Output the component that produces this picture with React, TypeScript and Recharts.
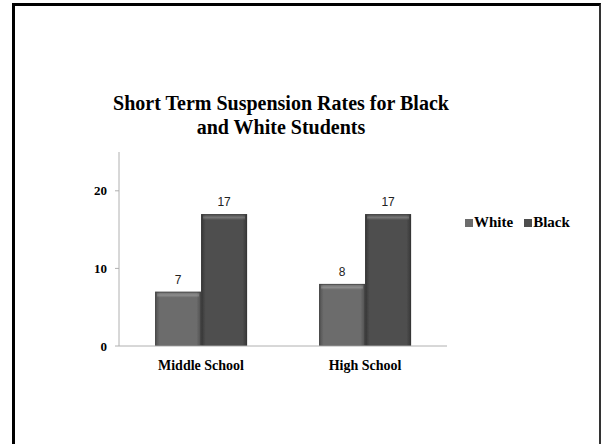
import { BarChart, Bar, XAxis, YAxis, LabelList } from "recharts";

const schools = ["Middle School", "High School"];
const whiteRates = [7, 8];
const blackRates = [17, 17];
const yTicks = [0, 10, 20];
const seriesNames = ["White", "Black"];

const data = schools.map((school, i) => ({
  school,
  White: whiteRates[i],
  Black: blackRates[i],
}));

const serif = '"Liberation Serif", "Times New Roman", serif';
const sans = '"Liberation Sans", Arial, sans-serif';
const swatch: Record<string, string> = { White: "#6c6c6c", Black: "#4e4e4e" };

// bevelled bar: darker edges with a soft highlight band along the top
function BevelBar(props: any) {
  const { x, y, width, height, gradId } = props;
  if (!height || height <= 0) return null;
  return (
    <g>
      <rect x={x} y={y} width={width} height={height} fill={`url(#${gradId})`} />
      <rect x={x + 2} y={y + 1} width={Math.max(width - 4, 0)} height={5} fill="url(#gradTop)" />
      <rect x={x + 0.5} y={y + 0.5} width={width - 1} height={height - 1} fill="none" stroke="#333" strokeOpacity={0.45} />
    </g>
  );
}

export default function App() {
  return (
    <div style={{ position: "fixed", left: 0, top: 0, width: 602, height: 444, background: "#fff", overflow: "hidden" }}>
      <div
        style={{
          position: "absolute",
          left: 12,
          top: 3,
          width: 584,
          height: 460,
          borderLeft: "3px solid #000",
          borderTop: "3px solid #000",
          borderRight: "2px solid #333",
        }}
      />
      <div
        style={{
          position: "absolute",
          left: 0,
          width: 562,
          top: 91,
          textAlign: "center",
          fontFamily: serif,
          fontWeight: "bold",
          fontSize: 20,
          lineHeight: "24px",
          color: "#000",
        }}
      >
        Short Term Suspension Rates for Black
        <br />
        and White Students
      </div>
      <div
        style={{
          position: "absolute",
          left: 465,
          top: 214,
          display: "flex",
          gap: 11,
          fontFamily: serif,
          fontWeight: "bold",
          fontSize: 15,
          color: "#000",
        }}
      >
        {seriesNames.map((name) => (
          <span key={name} style={{ display: "flex", alignItems: "center" }}>
            <span style={{ display: "inline-block", width: 8, height: 8, background: swatch[name], marginRight: 1 }} />
            {name}
          </span>
        ))}
      </div>
      <BarChart
        width={602}
        height={444}
        data={data}
        margin={{ top: 152, right: 155, bottom: 68, left: 79 }}
        barCategoryGap="22%"
        barGap={0}
        style={{ position: "absolute", left: 0, top: 0 }}
      >
        <defs>
          <linearGradient id="gradWhite" x1="0" y1="0" x2="1" y2="0">
            <stop offset="0%" stopColor="#4f4f4f" />
            <stop offset="10%" stopColor="#6c6c6c" />
            <stop offset="90%" stopColor="#6c6c6c" />
            <stop offset="100%" stopColor="#4f4f4f" />
          </linearGradient>
          <linearGradient id="gradBlack" x1="0" y1="0" x2="1" y2="0">
            <stop offset="0%" stopColor="#363636" />
            <stop offset="10%" stopColor="#4e4e4e" />
            <stop offset="90%" stopColor="#4e4e4e" />
            <stop offset="100%" stopColor="#363636" />
          </linearGradient>
          <linearGradient id="gradTop" x1="0" y1="0" x2="0" y2="1">
            <stop offset="0%" stopColor="#fff" stopOpacity={0.05} />
            <stop offset="50%" stopColor="#fff" stopOpacity={0.22} />
            <stop offset="100%" stopColor="#fff" stopOpacity={0} />
          </linearGradient>
        </defs>
        <XAxis
          dataKey="school"
          height={30}
          axisLine={{ stroke: "#b0b0b0" }}
          tickLine={false}
          tick={{ fontFamily: serif, fontWeight: "bold", fontSize: 14, fill: "#000" }}
          tickMargin={8}
        />
        <YAxis
          width={40}
          domain={[0, 25]}
          ticks={yTicks}
          axisLine={{ stroke: "#b0b0b0" }}
          tickLine={{ stroke: "#b0b0b0" }}
          tickSize={4}
          tick={{ fontFamily: serif, fontWeight: "bold", fontSize: 13, fill: "#000" }}
          tickMargin={8}
        />
        <Bar dataKey="White" isAnimationActive={false} shape={(p: any) => <BevelBar {...p} gradId="gradWhite" />}>
          <LabelList dataKey="White" position="top" offset={8} style={{ fontFamily: sans, fontSize: 12, fill: "#222" }} />
        </Bar>
        <Bar dataKey="Black" isAnimationActive={false} shape={(p: any) => <BevelBar {...p} gradId="gradBlack" />}>
          <LabelList dataKey="Black" position="top" offset={8} style={{ fontFamily: sans, fontSize: 12, fill: "#222" }} />
        </Bar>
      </BarChart>
    </div>
  );
}
